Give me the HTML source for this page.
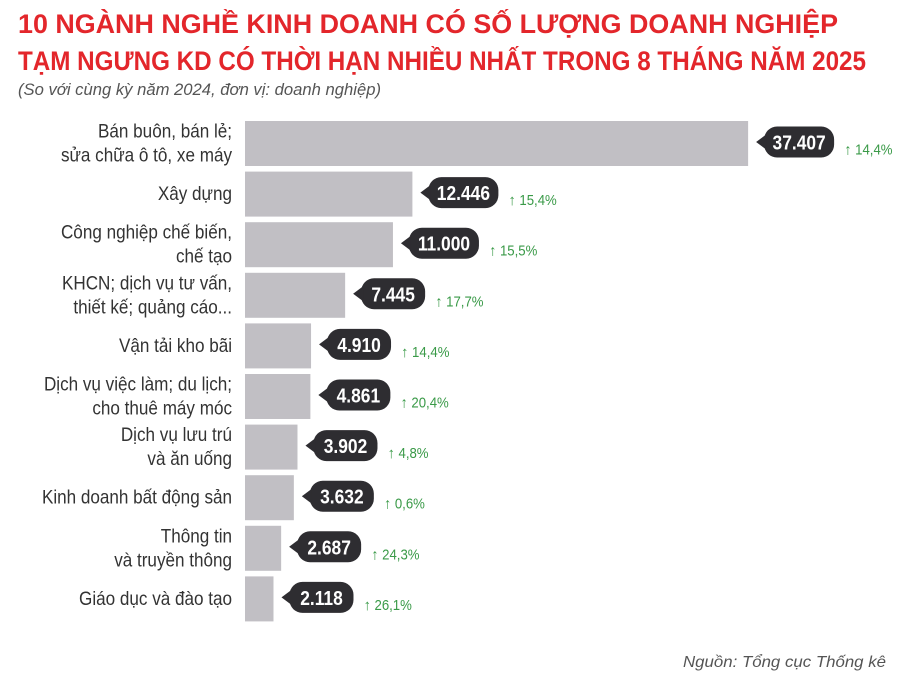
<!DOCTYPE html>
<html><head><meta charset="utf-8"><style>
html,body{margin:0;padding:0;background:#fff;}
svg{display:block;font-family:"Liberation Sans",sans-serif;}
</style></head><body>
<svg width="900" height="678" viewBox="0 0 900 678" xmlns="http://www.w3.org/2000/svg">
<rect width="900" height="678" fill="#fff"/>
<text x="18" y="33" font-size="27" font-weight="bold" fill="#e3262b" textLength="820" lengthAdjust="spacingAndGlyphs">10 NGÀNH NGHỀ KINH DOANH CÓ SỐ LƯỢNG DOANH NGHIỆP</text>
<text x="18" y="70" font-size="27" font-weight="bold" fill="#e3262b" textLength="848" lengthAdjust="spacingAndGlyphs">TẠM NGƯNG KD CÓ THỜI HẠN NHIỀU NHẤT TRONG 8 THÁNG NĂM 2025</text>
<text x="18" y="95" font-size="17" font-style="italic" fill="#555" textLength="363" lengthAdjust="spacingAndGlyphs">(So với cùng kỳ năm 2024, đơn vị: doanh nghiệp)</text>
<text x="886" y="667" font-size="16" font-style="italic" fill="#555" text-anchor="end" textLength="203" lengthAdjust="spacingAndGlyphs">Nguồn: Tổng cục Thống kê</text>
<g id="rows"></g>
</svg>
<script>
const d=[
[["Bán buôn, bán lẻ;","sửa chữa ô tô, xe máy"],37407,"37.407","14,4%"],
[["Xây dựng"],12446,"12.446","15,4%"],
[["Công nghiệp chế biến,","chế tạo"],11000,"11.000","15,5%"],
[["KHCN; dịch vụ tư vấn,","thiết kế; quảng cáo..."],7445,"7.445","17,7%"],
[["Vận tải kho bãi"],4910,"4.910","14,4%"],
[["Dịch vụ việc làm; du lịch;","cho thuê máy móc"],4861,"4.861","20,4%"],
[["Dịch vụ lưu trú","và ăn uống"],3902,"3.902","4,8%"],
[["Kinh doanh bất động sản"],3632,"3.632","0,6%"],
[["Thông tin","và truyền thông"],2687,"2.687","24,3%"],
[["Giáo dục và đào tạo"],2118,"2.118","26,1%"]];
let s="";
d.forEach((r,i)=>{
 const y=121+i*50.6,h=45,cy=y+h/2,w=r[1]*0.01345,rx=245+w;
 s+=`<rect x="245" y="${y}" width="${w}" height="${h}" fill="#c1bfc4"/>`;
 const L=r[0];
 const ys=L.length==1?[cy+6]:[cy-6,cy+18];
 L.forEach((t,j)=>{s+=`<text transform="translate(232,${ys[j]}) scale(0.9,1)" x="0" y="0" font-size="19" fill="#333" text-anchor="end">${t}</text>`;});
 const bw=r[2].length>5?70:64,bx=rx+16,by=cy-17;
 s+=`<rect x="${bx}" y="${by}" width="${bw}" height="31" rx="13" fill="#2e2d31"/>`;
 s+=`<path d="M${rx+8} ${cy-1.5} L${bx+2} ${cy-9} L${bx+2} ${cy+6} Z" fill="#2e2d31"/>`;
 s+=`<text transform="translate(${bx+bw/2},${cy+6}) scale(0.87,1)" x="0" y="0" font-size="20" font-weight="bold" fill="#fff" text-anchor="middle">${r[2]}</text>`;
 const px=bx+bw+10;
 s+=`<text x="${px}" y="${cy+11}" font-size="15" font-weight="bold" fill="#3a9a48">↑</text>`;
 s+=`<text transform="translate(${px+11},${cy+11}) scale(0.88,1)" x="0" y="0" font-size="15" fill="#3a9a48">${r[3]}</text>`;
});
document.getElementById("rows").innerHTML=s;
</script>
</body></html>
